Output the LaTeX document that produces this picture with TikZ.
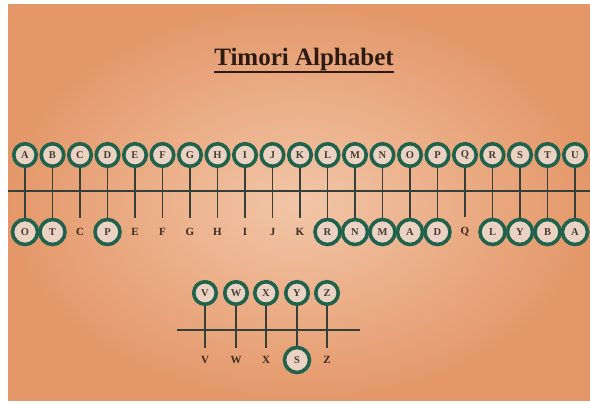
\documentclass[tikz,border=0pt]{standalone}
\usepackage{fontspec}
\setmainfont{Liberation Serif}
\definecolor{bgin}{HTML}{F2C6A8}
\definecolor{bgout}{HTML}{E4986A}
\definecolor{ringc}{HTML}{21624C}
\definecolor{fillc}{HTML}{EBD3C4}
\definecolor{inkc}{HTML}{4A3A30}
\definecolor{darkc}{HTML}{3A2A22}
\definecolor{linec}{HTML}{34413A}
\definecolor{titlec}{HTML}{2B1B12}
\begin{document}
\begin{tikzpicture}[x=1pt,y=-1pt,
  ring/.style={circle,draw=ringc,line width=3.6pt,fill=fillc,minimum size=22.5pt,inner sep=0pt,
    font=\fontsize{10.5}{10.5}\selectfont\bfseries,text=inkc},
  bigring/.style={ring,minimum size=25pt},
  plain/.style={inner sep=1pt,font=\fontsize{11}{11}\selectfont\bfseries,text=darkc},
  tick/.style={draw=linec,line width=1.3pt},
  rule/.style={draw=linec,line width=1.8pt}]
\useasboundingbox (0,0) rectangle (590,403);
\fill[white] (0,0) rectangle (590,403);
\shade[inner color=bgin,outer color=bgout] (8,5) rectangle (590,401);
% title
\node[anchor=base,inner sep=0pt,font=\fontsize{25}{25}\selectfont\bfseries,text=titlec] (title) at (304,66) {Timori Alphabet};
\draw[titlec,line width=1.5pt] ([yshift=-6pt]title.base west) -- ([yshift=-6pt]title.base east);
% main rule
\coordinate (r1a) at (8,191);
\coordinate (r1b) at (590,191);
\draw[rule] (r1a) -- (r1b);
% top row
\foreach \t [count=\i from 0] in {A,B,C,D,E,F,G,H,I,J,K,L,M,N,O,P,Q,R,S,T,U}
  \node[ring] (t\t) at ({25+27.5*\i},155) {\t};
% bottom row
\foreach \t/\b/\s [count=\i from 0] in {A/O/bigring,B/T/bigring,C/C/plain,D/P/bigring,E/E/plain,F/F/plain,G/G/plain,H/H/plain,I/I/plain,J/J/plain,K/K/plain,L/R/bigring,M/N/bigring,N/M/bigring,O/A/bigring,P/D/bigring,Q/Q/plain,R/L/bigring,S/Y/bigring,T/B/bigring,U/A/bigring}
  \node[\s] (b\t) at ({25+27.5*\i},232) {\b};
\foreach \t in {A,B,D,L,M,N,O,P,R,S,T,U}
  \draw[tick] (t\t.south) -- (b\t.north);
\foreach \t in {C,E,F,G,H,I,J,K,Q}
  \draw[tick,shorten >=9pt] (t\t.south) -- (b\t.north);
% second block
\coordinate (r2a) at (177,330);
\coordinate (r2b) at (360,330);
\draw[rule,line width=2.8pt] (r2a) -- (r2b);
\foreach \t/\x in {V/205,W/236,X/266,Y/297,Z/327}
  \node[ring] (t\t) at (\x,293) {\t};
\foreach \t/\b/\s/\x in {V/V/plain/205,W/W/plain/236,X/X/plain/266,Y/S/bigring/297,Z/Z/plain/327}
  \node[\s] (b\t) at (\x,360) {\b};
\draw[tick] (tY.south) -- (bY.north);
\foreach \t in {V,W,X,Z}
  \draw[tick,shorten >=7pt] (t\t.south) -- (b\t.north);
\end{tikzpicture}
\end{document}
